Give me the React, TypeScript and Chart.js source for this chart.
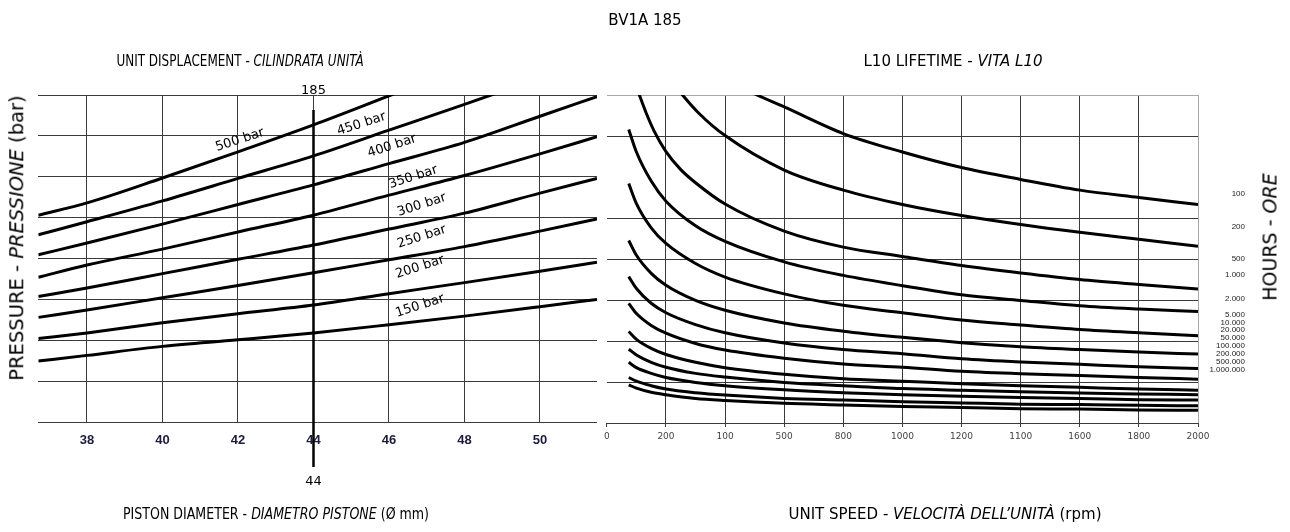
import React, { useEffect, useRef } from "react";
import { Chart, registerables } from "chart.js";

Chart.register(...registerables);

// ---------- Left chart: unit displacement ----------
const DIAMETERS = [36.71, 38, 40, 42, 44, 46, 48, 50, 51.51];
const X1_TICKS = [38, 40, 42, 44, 46, 48, 50];
const X1_MIN = 36.71;
const X1_MAX = 51.51;
const Y_MIN = 0;
const Y_MAX = 8;
const Y_GRID = [0, 1, 2, 3, 4, 5, 6, 7, 8];

const P500 = [5.06, 5.36, 5.97, 6.61, 7.27, 7.98, 8.69];
const P450 = [4.58, 4.9, 5.41, 5.96, 6.51, 7.14, 7.77, 8.42];
const P400 = [4.09, 4.38, 4.84, 5.32, 5.8, 6.32, 6.84, 7.48, 7.96];
const P350 = [3.54, 3.84, 4.23, 4.65, 5.06, 5.55, 6.03, 6.56, 6.98];
const P300 = [3.07, 3.28, 3.63, 3.98, 4.33, 4.72, 5.11, 5.6, 5.96];
const P250 = [2.56, 2.74, 3.04, 3.34, 3.65, 3.97, 4.29, 4.67, 4.97];
const P200 = [2.04, 2.18, 2.43, 2.65, 2.86, 3.14, 3.41, 3.69, 3.91];
const P150 = [1.49, 1.63, 1.85, 2.01, 2.18, 2.38, 2.59, 2.82, 3.0];
const PRESSURE_LINES = [P500, P450, P400, P350, P300, P250, P200, P150];
const PRESSURE_LABELS = ["500 bar", "450 bar", "400 bar", "350 bar", "300 bar", "250 bar", "200 bar", "150 bar"];
const PRESSURE_LABEL_D = [42.05, 45.27, 46.08, 46.64, 46.87, 46.87, 46.82, 46.82];
const PRESSURE_LABEL_U = [6.9, 7.29, 6.75, 5.99, 5.31, 4.53, 3.79, 2.84];

const MARK_D = 44;
const MARK_TOP = 7.63;
const MARK_BOTTOM = -1.1;
const MARK_TOP_LABEL = "185";
const MARK_TOP_LABEL_Y = 8.1;
const MARK_BOTTOM_LABEL = "44";
const MARK_BOTTOM_LABEL_Y = -1.47;

// ---------- Right chart: L10 lifetime ----------
const X2_TICKS = [0, 200, 400, 600, 800, 1000, 1200, 1400, 1600, 1800, 2000];
const X2_TICK_LABELS = ["0", "200", "100", "500", "800", "1000", "1200", "1100", "1600", "1800", "2000"];

const H100_RPM = [440, 508, 600, 800, 1000, 1200, 1400, 1600, 1800, 2000];
const H100 = [8.24, 8.0, 7.71, 7.06, 6.61, 6.23, 5.94, 5.68, 5.5, 5.33];
const H200_RPM = [230, 256, 312, 400, 600, 800, 1000, 1200, 1400, 1600, 1800, 2000];
const H200 = [8.24, 8.0, 7.55, 7.01, 6.17, 5.68, 5.33, 5.06, 4.84, 4.65, 4.48, 4.31];
const H500_RPM = [100, 110, 132, 160, 200, 250, 300, 400, 600, 800, 1000, 1200, 1400, 1600, 1800, 2000];
const H500 = [8.2, 8.0, 7.58, 7.12, 6.62, 6.18, 5.86, 5.34, 4.68, 4.29, 4.06, 3.84, 3.66, 3.5, 3.38, 3.27];
const RPM = [74, 100, 150, 200, 300, 400, 600, 800, 1000, 1200, 1400, 1600, 1800, 2000];
const H1000 = [7.16, 6.61, 5.9, 5.41, 4.81, 4.43, 3.93, 3.6, 3.35, 3.13, 2.99, 2.86, 2.78, 2.72];
const H2000 = [5.84, 5.35, 4.76, 4.38, 3.89, 3.56, 3.15, 2.87, 2.69, 2.51, 2.39, 2.28, 2.2, 2.13];
const H5000 = [4.45, 4.09, 3.65, 3.36, 2.99, 2.75, 2.44, 2.24, 2.09, 1.96, 1.86, 1.79, 1.73, 1.68];
const H10000 = [3.57, 3.28, 2.92, 2.69, 2.4, 2.2, 1.95, 1.79, 1.69, 1.57, 1.49, 1.43, 1.37, 1.33];
const H20000 = [2.92, 2.67, 2.38, 2.19, 1.94, 1.78, 1.58, 1.44, 1.36, 1.26, 1.2, 1.16, 1.11, 1.07];
const H50000 = [2.23, 2.04, 1.82, 1.67, 1.48, 1.35, 1.19, 1.08, 1.02, 0.96, 0.91, 0.87, 0.83, 0.8];
const H100000 = [1.8, 1.66, 1.48, 1.36, 1.21, 1.12, 0.99, 0.91, 0.84, 0.8, 0.76, 0.73, 0.71, 0.69];
const H200000 = [1.48, 1.35, 1.21, 1.11, 0.99, 0.91, 0.81, 0.74, 0.69, 0.65, 0.62, 0.6, 0.57, 0.56];
const H500000 = [1.11, 1.02, 0.91, 0.83, 0.74, 0.68, 0.6, 0.56, 0.52, 0.49, 0.46, 0.45, 0.43, 0.42];
const H1000000 = [0.93, 0.85, 0.75, 0.69, 0.6, 0.55, 0.48, 0.44, 0.4, 0.38, 0.35, 0.34, 0.32, 0.31];

const HOUR_LABELS = ["100", "200", "500", "1.000", "2.000", "5.000", "10.000", "20.000", "50.000", "100.000", "200.000", "500.000", "1.000.000"];
const HOUR_LABEL_Y = [5.58, 4.78, 4.0, 3.62, 3.04, 2.64, 2.45, 2.27, 2.08, 1.88, 1.69, 1.49, 1.29];

const GRID = "#3a3a3a";
const LIGHT = "#a8a8a8";
const FONT = '"DejaVu Sans", Verdana, sans-serif';

const toPoints = (xs: number[], ys: number[]) => ys.map((y, i) => ({ x: xs[i], y }));

const curve = (pts: { x: number; y: number }[]) => ({
  data: pts,
  borderColor: "#000",
  borderWidth: 3,
  pointRadius: 0,
  fill: false,
  cubicInterpolationMode: "monotone" as const,
});

const leftPlugin = {
  id: "leftAnnotations",
  afterDraw(chart: any) {
    const { ctx, scales } = chart;
    const x = scales.x;
    const y = scales.y;
    ctx.save();
    ctx.fillStyle = "#000";
    ctx.font = `13px ${FONT}`;
    ctx.textAlign = "center";
    ctx.textBaseline = "middle";
    PRESSURE_LABELS.forEach((t, i) => {
      ctx.save();
      ctx.translate(x.getPixelForValue(PRESSURE_LABEL_D[i]), y.getPixelForValue(PRESSURE_LABEL_U[i]));
      ctx.rotate((-18 * Math.PI) / 180);
      ctx.fillText(t, 0, 0);
      ctx.restore();
    });
    const mx = x.getPixelForValue(MARK_D);
    ctx.strokeStyle = "#000";
    ctx.lineWidth = 2.5;
    ctx.beginPath();
    ctx.moveTo(mx, y.getPixelForValue(MARK_TOP));
    ctx.lineTo(mx, y.getPixelForValue(MARK_BOTTOM));
    ctx.stroke();
    ctx.font = `13px ${FONT}`;
    ctx.fillText(MARK_TOP_LABEL, mx, y.getPixelForValue(MARK_TOP_LABEL_Y));
    ctx.fillText(MARK_BOTTOM_LABEL, mx, y.getPixelForValue(MARK_BOTTOM_LABEL_Y));
    ctx.restore();
  },
};

const rightPlugin = {
  id: "hourLabels",
  afterDraw(chart: any) {
    const { ctx, chartArea, scales } = chart;
    const y = scales.y;
    ctx.save();
    ctx.fillStyle = "#222";
    ctx.font = `8px "Liberation Sans", Arial, sans-serif`;
    ctx.textAlign = "right";
    ctx.textBaseline = "middle";
    HOUR_LABELS.forEach((t, i) => {
      ctx.fillText(t, chartArea.right + 47, y.getPixelForValue(HOUR_LABEL_Y[i]));
    });
    ctx.restore();
  },
};

export default function App() {
  const leftRef = useRef<HTMLCanvasElement | null>(null);
  const rightRef = useRef<HTMLCanvasElement | null>(null);

  useEffect(() => {
    const left = new Chart(leftRef.current as HTMLCanvasElement, {
      type: "line",
      data: {
        datasets: PRESSURE_LINES.map((vals) => curve(toPoints(DIAMETERS, vals))) as any,
      },
      options: {
        animation: false,
        responsive: false,
        devicePixelRatio: 1,
        events: [],
        layout: { padding: { left: 38.3, top: 95, right: 3, bottom: 0 } },
        plugins: { legend: { display: false }, tooltip: { enabled: false } },
        scales: {
          x: {
            type: "linear",
            min: X1_MIN,
            max: X1_MAX,
            afterBuildTicks: (s: any) => {
              s.ticks = X1_TICKS.map((v) => ({ value: v }));
            },
            afterFit: (s: any) => {
              s.height = 110;
            },
            grid: { color: GRID, lineWidth: 1, drawTicks: false },
            border: { display: false },
            ticks: {
              autoSkip: false,
              maxRotation: 0,
              padding: 11,
              color: "#1c1c3c",
              font: { family: '"Liberation Sans Narrow", "Liberation Sans", Arial', size: 13, weight: "bold" },
            },
          },
          y: {
            type: "linear",
            min: Y_MIN,
            max: Y_MAX,
            afterBuildTicks: (s: any) => {
              s.ticks = Y_GRID.map((v) => ({ value: v }));
            },
            afterFit: (s: any) => {
              s.width = 0;
            },
            ticks: { display: false },
            grid: { color: GRID, lineWidth: 1, drawTicks: false },
            border: { display: false },
          },
        },
      } as any,
      plugins: [leftPlugin],
    });

    const hourSeries = [
      toPoints(H100_RPM, H100),
      toPoints(H200_RPM, H200),
      toPoints(H500_RPM, H500),
      toPoints(RPM, H1000),
      toPoints(RPM, H2000),
      toPoints(RPM, H5000),
      toPoints(RPM, H10000),
      toPoints(RPM, H20000),
      toPoints(RPM, H50000),
      toPoints(RPM, H100000),
      toPoints(RPM, H200000),
      toPoints(RPM, H500000),
      toPoints(RPM, H1000000),
    ];

    const right = new Chart(rightRef.current as HTMLCanvasElement, {
      type: "line",
      data: { datasets: hourSeries.map((p) => curve(p)) as any },
      options: {
        animation: false,
        responsive: false,
        devicePixelRatio: 1,
        events: [],
        layout: { padding: { left: 4.5, top: 95, right: 92, bottom: 0 } },
        plugins: { legend: { display: false }, tooltip: { enabled: false } },
        scales: {
          x: {
            type: "linear",
            min: 0,
            max: 2000,
            afterBuildTicks: (s: any) => {
              s.ticks = X2_TICKS.map((v) => ({ value: v }));
            },
            afterFit: (s: any) => {
              s.height = 109;
            },
            grid: {
              color: (c: any) =>
                c.tick && c.tick.value === 0 ? "rgba(0,0,0,0)" : c.tick && c.tick.value === 2000 ? LIGHT : GRID,
              tickColor: GRID,
              lineWidth: 1,
              drawTicks: true,
              tickLength: 4,
            },
            border: { display: true, color: GRID, width: 1 },
            ticks: {
              autoSkip: false,
              maxRotation: 0,
              padding: 4,
              color: "#444",
              font: { family: FONT, size: 9 },
              callback: (_v: any, i: number) => X2_TICK_LABELS[i],
            },
          },
          y: {
            type: "linear",
            min: Y_MIN,
            max: Y_MAX,
            afterBuildTicks: (s: any) => {
              s.ticks = Y_GRID.map((v) => ({ value: v }));
            },
            afterFit: (s: any) => {
              s.width = 0;
            },
            ticks: { display: false },
            grid: {
              color: (c: any) =>
                c.tick && c.tick.value === 6 ? "rgba(0,0,0,0)" : c.tick && c.tick.value === 8 ? LIGHT : GRID,
              lineWidth: 1,
              drawTicks: false,
            },
            border: { display: false },
          },
        },
      } as any,
      plugins: [rightPlugin],
    });

    return () => {
      left.destroy();
      right.destroy();
    };
  }, []);

  const centered = (left: number, top: number, size: number, extra: any = {}) => ({
    position: "absolute" as const,
    left,
    top,
    transform: "translate(-50%, -50%)",
    fontSize: size,
    whiteSpace: "nowrap" as const,
    lineHeight: 1,
    ...extra,
  });

  return (
    <div
      style={{
        position: "absolute",
        left: 0,
        top: 0,
        width: 1290,
        height: 532,
        background: "#fff",
        color: "#000",
        fontFamily: FONT,
        overflow: "hidden",
      }}
    >
      <canvas ref={leftRef} width={600} height={532} style={{ position: "absolute", left: 0, top: 0 }} />
      <canvas ref={rightRef} width={690} height={532} style={{ position: "absolute", left: 600, top: 0 }} />
      <div style={centered(645, 20, 15)}>BV1A 185</div>
      <div style={centered(240, 61, 15, { transform: "translate(-50%, -50%) scaleX(0.8)" })}>
        UNIT DISPLACEMENT - <i>CILINDRATA UNITÀ</i>
      </div>
      <div style={centered(953, 61, 15)}>
        L10 LIFETIME - <i>VITA L10</i>
      </div>
      <div style={centered(276, 514, 15, { transform: "translate(-50%, -50%) scaleX(0.84)" })}>
        PISTON DIAMETER - <i>DIAMETRO PISTONE</i> (Ø mm)
      </div>
      <div style={centered(945, 514, 15)}>
        UNIT SPEED - <i>VELOCITÀ DELL’UNITÀ</i> (rpm)
      </div>
      <div style={centered(17, 238, 19.5, { transform: "translate(-50%, -50%) rotate(-90deg)" })}>
        PRESSURE - <i>PRESSIONE</i> (bar)
      </div>
      <div style={centered(1270, 237, 19, { transform: "translate(-50%, -50%) rotate(-90deg)" })}>
        HOURS - <i>ORE</i>
      </div>
    </div>
  );
}
